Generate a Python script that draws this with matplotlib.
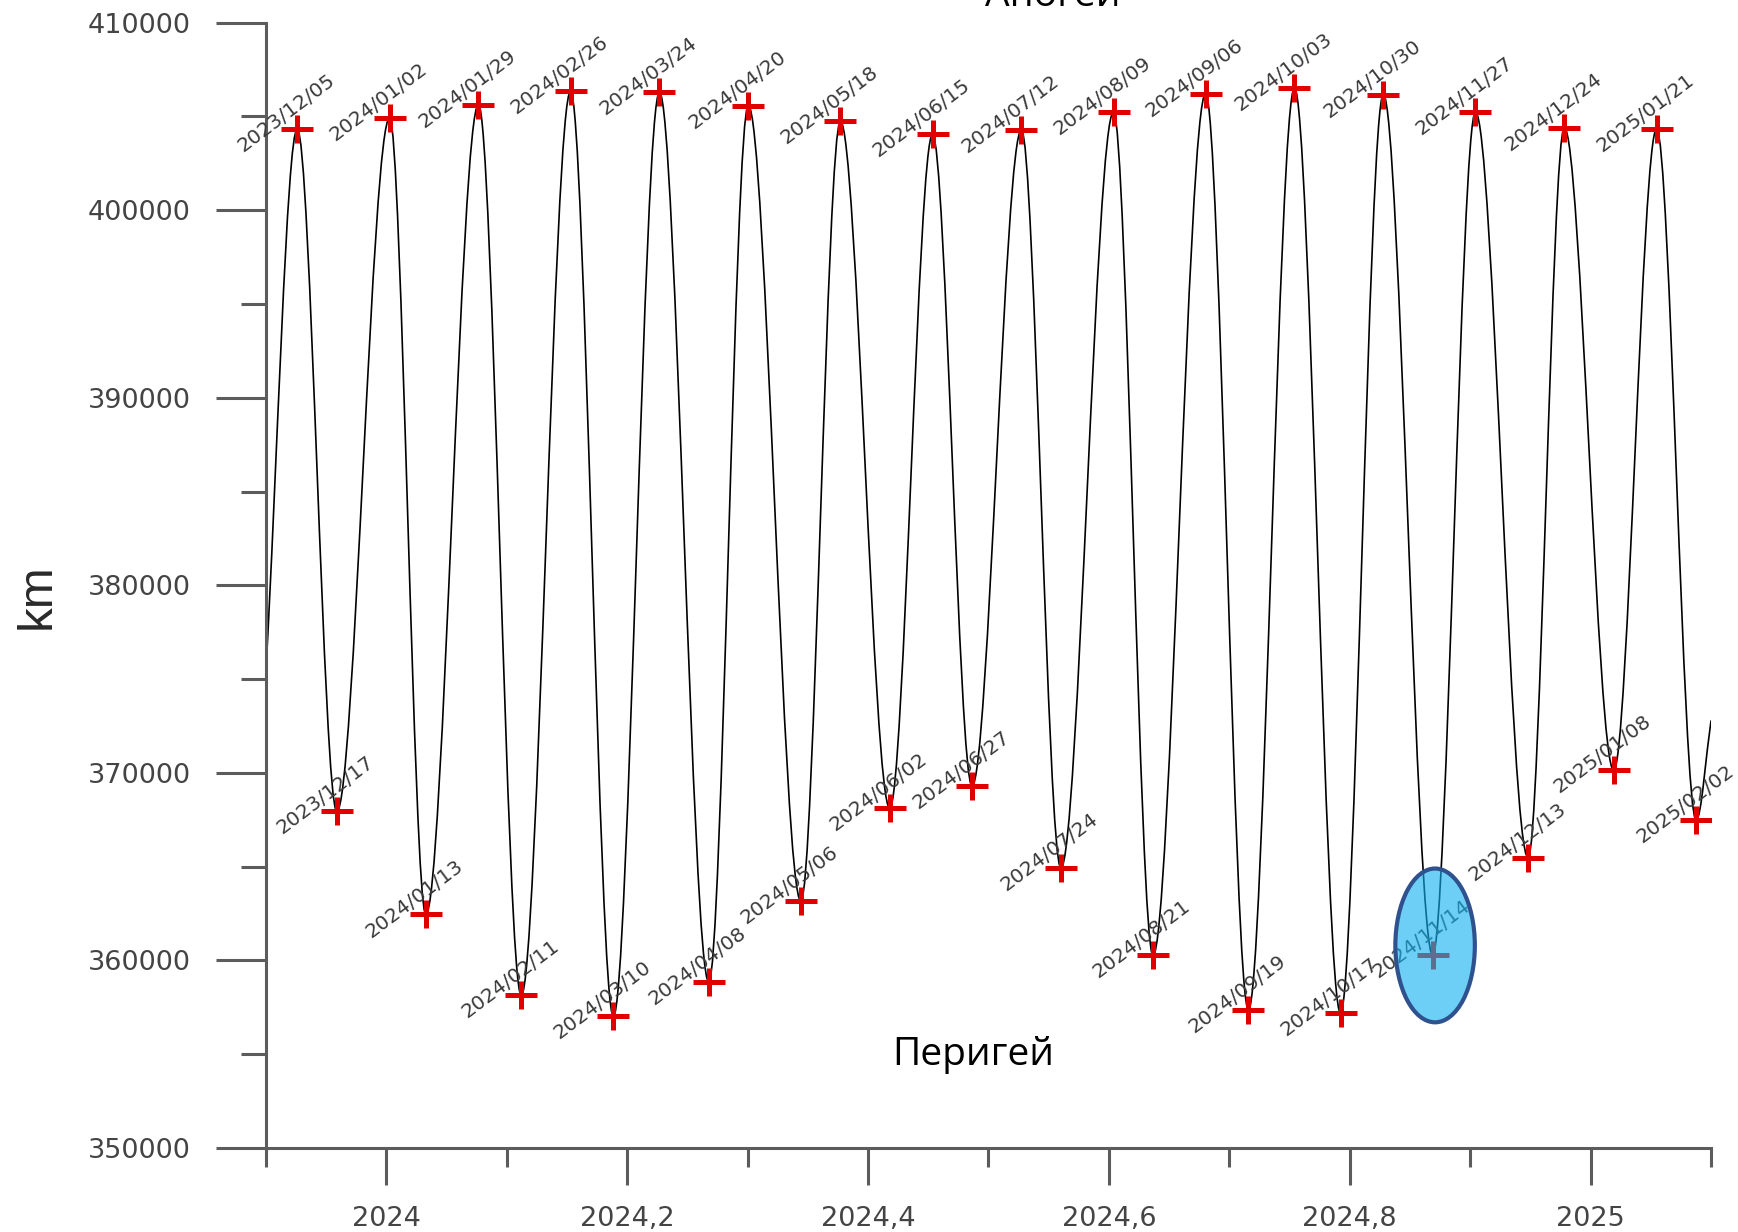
import datetime as dt
import matplotlib
matplotlib.use("Agg")
import matplotlib.pyplot as plt
from matplotlib.path import Path
from matplotlib.patches import PathPatch, Ellipse

# ---------------- data ----------------
apogee_dates = ["2023/12/05", "2024/01/02", "2024/01/29", "2024/02/26", "2024/03/24",
                "2024/04/20", "2024/05/18", "2024/06/15", "2024/07/12", "2024/08/09",
                "2024/09/06", "2024/10/03", "2024/10/30", "2024/11/27", "2024/12/24",
                "2025/01/21"]
apogee_km = [404330, 404920, 405630, 406340, 406290,
             405580, 404740, 404040, 404280, 405230,
             406220, 406520, 406170, 405230, 404400,
             404330]

perigee_dates = ["2023/12/17", "2024/01/13", "2024/02/11", "2024/03/10", "2024/04/08",
                 "2024/05/06", "2024/06/02", "2024/06/27", "2024/07/24", "2024/08/21",
                 "2024/09/19", "2024/10/17", "2024/11/14", "2024/12/13", "2025/01/08",
                 "2025/02/02"]
perigee_km = [367950, 362450, 358140, 357020, 358850,
              363160, 368120, 369300, 364930, 360270,
              357370, 357190, 360270, 365470, 370130,
              367470]

curve_start = (2023.9, 375500)   # where the curve enters the plot
curve_end = (2025.1, 372800)     # where the curve leaves the plot

x_major = [2024.0, 2024.2, 2024.4, 2024.6, 2024.8, 2025.0]
x_major_labels = ["2024", "2024,2", "2024,4", "2024,6", "2024,8", "2025"]
x_minor = [2023.9, 2024.1, 2024.3, 2024.5, 2024.7, 2024.9, 2025.1]
y_major = [350000, 360000, 370000, 380000, 390000, 400000, 410000]
y_minor = [355000, 365000, 375000, 385000, 395000, 405000]

highlight_date = "2024/11/14"


def dec_year(s):
    d = dt.datetime.strptime(s, "%Y/%m/%d")
    start = dt.datetime(d.year, 1, 1)
    ndays = (dt.datetime(d.year + 1, 1, 1) - start).days
    return d.year + (d - start).days / ndays


apo_x = [dec_year(s) for s in apogee_dates]
per_x = [dec_year(s) for s in perigee_dates]

# chronological extremes
events = sorted(list(zip(apo_x, apogee_km)) + list(zip(per_x, perigee_km)))

# ---------------- figure ----------------
fig = plt.figure(figsize=(17.38, 12.32), dpi=100)
ax = fig.add_axes([0.1530, 0.0682, 0.8315, 0.9134])
ax.set_xlim(2023.9, 2025.1)
ax.set_ylim(350000, 410000)

axis_col = "#5c5c5c"
for side in ("top", "right"):
    ax.spines[side].set_visible(False)
for side in ("left", "bottom"):
    ax.spines[side].set_color(axis_col)
    ax.spines[side].set_linewidth(2.2)

ax.set_xticks(x_major)
ax.set_xticklabels(x_major_labels)
ax.set_xticks(x_minor, minor=True)
ax.set_yticks(y_major)
ax.set_yticklabels([str(v) for v in y_major])
ax.set_yticks(y_minor, minor=True)

ax.tick_params(axis="x", which="major", length=26.5, width=2.2, color=axis_col,
               pad=15, labelsize=19.5, labelcolor="#444444")
ax.tick_params(axis="x", which="minor", length=13.5, width=2.2, color=axis_col)
ax.tick_params(axis="y", which="major", length=36, width=2.2, color=axis_col,
               pad=18, labelsize=19.5, labelcolor="#444444")
ax.tick_params(axis="y", which="minor", length=18, width=2.2, color=axis_col)
for lab in ax.get_xticklabels() + ax.get_yticklabels():
    lab.set_fontfamily("DejaVu Sans")

# ---------------- smooth curve through extremes ----------------
pts = [curve_start] + events + [curve_end]
verts = [pts[0]]
codes = [Path.MOVETO]
n = len(pts)
for i in range(n - 1):
    x0, y0 = pts[i]
    x1, y1 = pts[i + 1]
    dx = x1 - x0
    c0y = y0 if i > 0 else y0 + (y1 - y0) / 3.0
    c1y = y1 if i + 1 < n - 1 else y1 - (y1 - y0) / 3.0
    verts += [(x0 + dx / 3.0, c0y), (x1 - dx / 3.0, c1y), (x1, y1)]
    codes += [Path.CURVE4, Path.CURVE4, Path.CURVE4]
curve = PathPatch(Path(verts, codes), facecolor="none", edgecolor="black",
                  lw=1.2, transform=ax.transData, zorder=2)
ax.add_patch(curve)

# ---------------- red crosses ----------------
plus = Path([(-1.0, 0.0), (1.0, 0.0), (0.0, -0.87), (0.0, 0.87)],
            [Path.MOVETO, Path.LINETO, Path.MOVETO, Path.LINETO])
ax.plot(apo_x, apogee_km, linestyle="none", marker=plus, markersize=23,
        markeredgewidth=3.6, color="#E00000", zorder=3)
ax.plot(per_x, perigee_km, linestyle="none", marker=plus, markersize=23,
        markeredgewidth=3.6, color="#E00000", zorder=3)

# ---------------- date labels ----------------
for lab, x, y in list(zip(apogee_dates, apo_x, apogee_km)) + list(zip(perigee_dates, per_x, perigee_km)):
    ax.annotate(lab, (x, y), xytext=(-8, 11.5), textcoords="offset points",
                rotation=37, rotation_mode="anchor", ha="center", va="center",
                fontsize=14.5, color="#3a3a3a", family="DejaVu Sans",
                zorder=4, annotation_clip=False)

# ---------------- highlight ellipse ----------------
hx = dec_year(highlight_date)
ell = Ellipse((hx + 0.002, 360800), width=0.066, height=8200,
              facecolor=(16 / 255, 177 / 255, 239 / 255, 0.61),
              edgecolor="#2F528F", lw=3, zorder=6, transform=ax.transData)
ax.add_patch(ell)

# ---------------- text ----------------
fig.text(0.0216, 0.516, "km", rotation=90, ha="center", va="center",
         fontsize=35.5, family="Liberation Sans", color="#2a2a2a")
fig.text(973 / 1738, 1 - 1055 / 1232, "Перигей", ha="center", va="center",
         fontsize=28, family="Open Sans", color="black")
fig.text(1053 / 1738, 1 - 6 / 1232, "Апогей", ha="center", va="baseline",
         fontsize=28, family="Open Sans", color="black")

fig.savefig("out.png", dpi=100, facecolor="white")
